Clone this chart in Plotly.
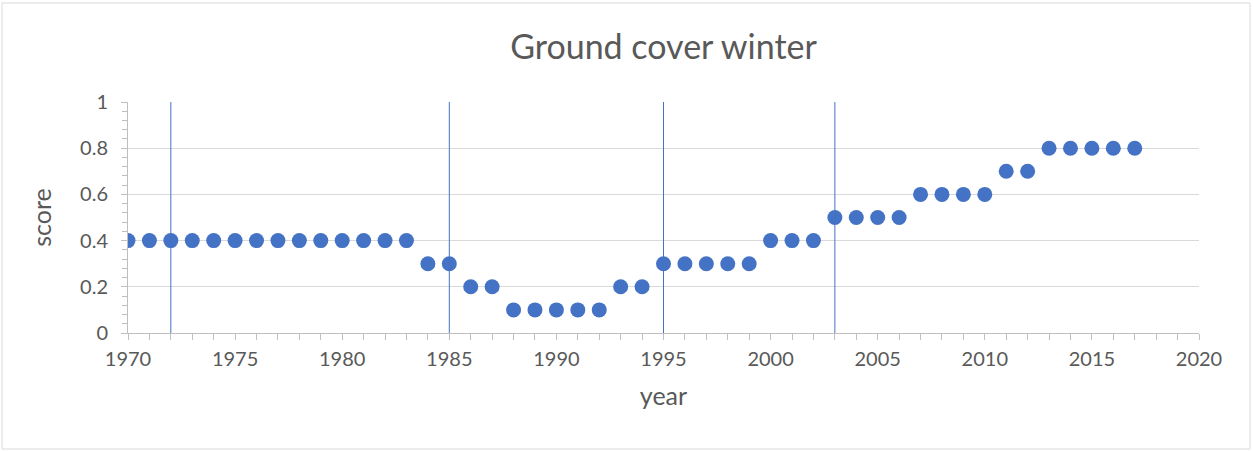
import plotly.graph_objects as go

years = list(range(1970, 2018))
scores = [0.4] * 14 + [0.3, 0.3, 0.2, 0.2, 0.1, 0.1, 0.1, 0.1, 0.1, 0.2, 0.2,
          0.3, 0.3, 0.3, 0.3, 0.3, 0.4, 0.4, 0.4, 0.5, 0.5, 0.5, 0.5,
          0.6, 0.6, 0.6, 0.6, 0.7, 0.7, 0.8, 0.8, 0.8, 0.8, 0.8]
event_years = [1972, 1985, 1995, 2003]

BLUE = "#4472C4"
TXT = "#595959"
FONT = "Lato, 'Open Sans', sans-serif"

fig = go.Figure()
fig.add_trace(go.Scatter(x=years, y=scores, mode="markers",
                         marker=dict(color=BLUE, size=15), showlegend=False))

for yr in event_years:
    fig.add_shape(type="line", x0=yr, x1=yr, y0=0, y1=1, xref="x", yref="paper",
                  line=dict(color=BLUE, width=1))

W, H = 1253, 452
L, R, T, B = 128, 54, 102, 119
pw, ph = W - L - R, H - T - B
# outer chart border
fig.add_shape(type="rect", xref="paper", yref="paper",
              x0=(2 - L) / pw, x1=(W - 3 - L) / pw,
              y0=(H - B - (H - 3)) / ph, y1=(H - B - 3) / ph,
              line=dict(color="#D9D9D9", width=1), layer="below")

fig.update_layout(
    width=W, height=H,
    margin=dict(l=L, r=R, t=T, b=B),
    plot_bgcolor="white", paper_bgcolor="white",
    font=dict(family=FONT, color=TXT, size=20),
    title=dict(text="Ground cover winter", x=0.5, xref="paper",
               y=1 - 47 / H, yanchor="middle", font=dict(size=34, color=TXT)),
)
fig.update_xaxes(range=[1970, 2020], dtick=5, tick0=1970,
                 showgrid=False, showline=True, linecolor="#BFBFBF", linewidth=1,
                 ticks="outside", ticklen=6, tickcolor="#BFBFBF",
                 minor=dict(ticks="outside", dtick=1, ticklen=6, tickcolor="#BFBFBF"),
                 ticklabelstandoff=2,
                 title=dict(text="year", font=dict(size=25), standoff=18),
                 zeroline=False)
fig.update_yaxes(range=[0, 1], dtick=0.2, tickformat="~g",
                 showgrid=True, gridcolor="#D9D9D9", gridwidth=1,
                 showline=True, linecolor="#BFBFBF", linewidth=1,
                 ticks="outside", ticklen=6, tickcolor="#BFBFBF",
                 minor=dict(ticks="outside", dtick=0.04, ticklen=5, tickcolor="#BFBFBF"),
                 ticklabelstandoff=9,
                 title=dict(text="score", font=dict(size=25), standoff=21),
                 zeroline=False)

fig.write_html("out.html", config={"displayModeBar": False},
               post_script="document.body.style.margin='0';")
